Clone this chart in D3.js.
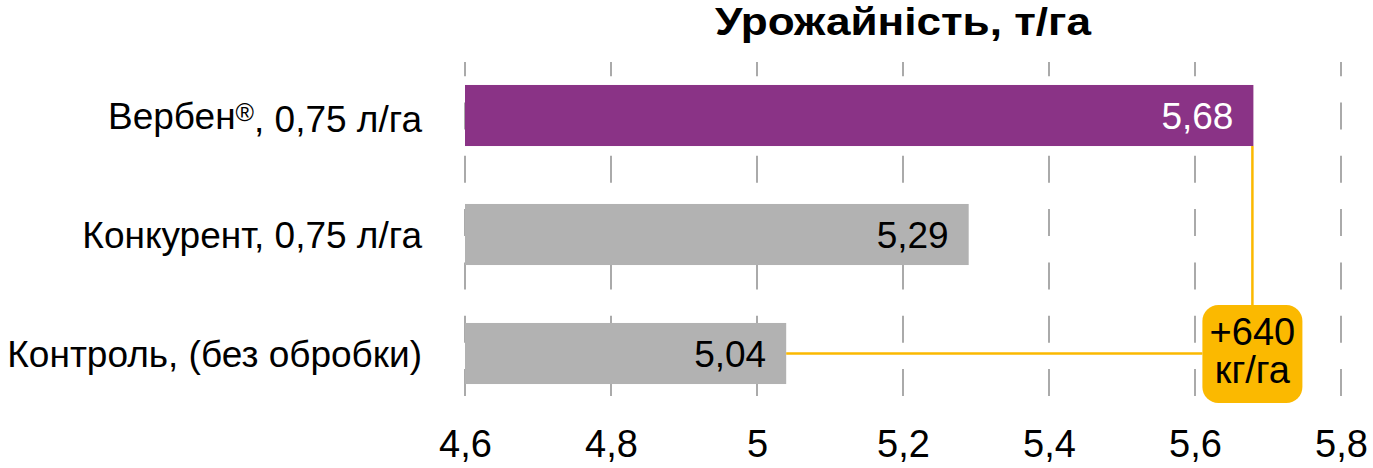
<!DOCTYPE html>
<html>
<head>
<meta charset="utf-8">
<script src="https://cdn.jsdelivr.net/npm/d3@7"></script>
<style>
  body { margin: 0; background: #fff; }
  svg { display: block; font-family: "Liberation Sans", Arial, sans-serif; }
</style>
</head>
<body>
<div id="chart"></div>
<script>
const categories = ["Вербен®, 0,75 л/га", "Конкурент, 0,75 л/га", "Контроль, (без обробки)"];
const yields = [5.68, 5.29, 5.04];
const barColors = ["#8a3386", "#b2b2b2", "#b2b2b2"];
const valueColors = ["#ffffff", "#000000", "#000000"];
const ticks = [4.6, 4.8, 5.0, 5.2, 5.4, 5.6, 5.8];
const gainLabel = ["+640", "кг/га"];

const width = 1373;
const height = 468;

const svg = d3.select("#chart")
  .append("svg")
  .attr("width", width)
  .attr("height", height);

const x = d3.scaleLinear()
  .domain([4.6, 5.8])
  .range([465, 1341]);

const y = d3.scaleBand()
  .domain(categories)
  .range([56, 413])
  .paddingInner(0.487)
  .paddingOuter(0.2435);

const fmt = v => String(v).replace(".", ",");

// dashed grid, drawn from bottom up so the dashes line up
svg.append("g")
  .selectAll("line")
  .data(ticks)
  .join("line")
  .attr("x1", d => x(d))
  .attr("x2", d => x(d))
  .attr("y1", 396)
  .attr("y2", 62)
  .attr("stroke", "#aaaaaa")
  .attr("stroke-width", 2)
  .attr("stroke-dasharray", "27,26.3");

// bars
svg.append("g")
  .selectAll("rect")
  .data(categories)
  .join("rect")
  .attr("x", x(4.6))
  .attr("y", d => y(d))
  .attr("width", (d, i) => x(yields[i]) - x(4.6))
  .attr("height", y.bandwidth())
  .attr("fill", (d, i) => barColors[i]);

// value labels inside bars
svg.append("g")
  .selectAll("text")
  .data(categories)
  .join("text")
  .attr("x", (d, i) => x(yields[i]) - 20)
  .attr("y", d => y(d) + y.bandwidth() / 2)
  .attr("dy", "0.36em")
  .attr("text-anchor", "end")
  .attr("fill", (d, i) => valueColors[i])
  .style("font-size", "37px")
  .text((d, i) => fmt(yields[i]));

// category labels
svg.append("g")
  .selectAll("text")
  .data(categories)
  .join("text")
  .attr("x", 422)
  .attr("y", d => y(d) + y.bandwidth() / 2)
  .attr("dy", "0.36em")
  .attr("text-anchor", "end")
  .style("font-size", "37px")
  .each(function (d) {
    const t = d3.select(this);
    const parts = d.split("®");
    t.append("tspan").text(parts[0]);
    if (parts.length > 1) {
      t.append("tspan").attr("dy", "-0.3em").style("font-size", "25px").text("®");
      t.append("tspan").attr("dy", "0.3em").text(parts[1]);
    }
  });

// x axis tick labels
svg.append("g")
  .attr("transform", "translate(0,457)")
  .call(d3.axisBottom(x).tickValues(ticks).tickSize(0).tickPadding(0).tickFormat(d => fmt(+d.toFixed(1))))
  .call(g => g.select(".domain").remove())
  .selectAll("text")
  .attr("dy", 0)
  .attr("fill", "#000")
  .style("font-family", "'Liberation Sans', Arial, sans-serif")
  .style("font-size", "38px");

// title
svg.append("text")
  .attr("x", x(5.2))
  .attr("y", 35)
  .attr("text-anchor", "middle")
  .attr("textLength", 376)
  .attr("lengthAdjust", "spacingAndGlyphs")
  .style("font-size", "38px")
  .style("font-weight", "bold")
  .text("Урожайність, т/га");

// difference annotation
const yellow = "#fbb900";
const topEnd = x(yields[0]) - 1;
const boxW = 100, boxH = 98;
const boxX = topEnd - boxW / 2;
const boxY = 305;
const midLow = y(categories[2]) + y.bandwidth() / 2;

svg.append("line")
  .attr("x1", topEnd).attr("x2", topEnd)
  .attr("y1", y(categories[0]) + y.bandwidth())
  .attr("y2", boxY)
  .attr("stroke", yellow).attr("stroke-width", 2.5);

svg.append("line")
  .attr("x1", x(yields[2])).attr("x2", boxX)
  .attr("y1", midLow).attr("y2", midLow)
  .attr("stroke", yellow).attr("stroke-width", 2.5);

svg.append("rect")
  .attr("x", boxX).attr("y", boxY)
  .attr("width", boxW).attr("height", boxH)
  .attr("rx", 16)
  .attr("fill", yellow);

svg.append("text")
  .attr("x", topEnd)
  .attr("text-anchor", "middle")
  .style("font-size", "38px")
  .selectAll("tspan")
  .data(gainLabel)
  .join("tspan")
  .attr("x", topEnd)
  .attr("y", (d, i) => 345 + i * 38)
  .text(d => d);
</script>
</body>
</html>
